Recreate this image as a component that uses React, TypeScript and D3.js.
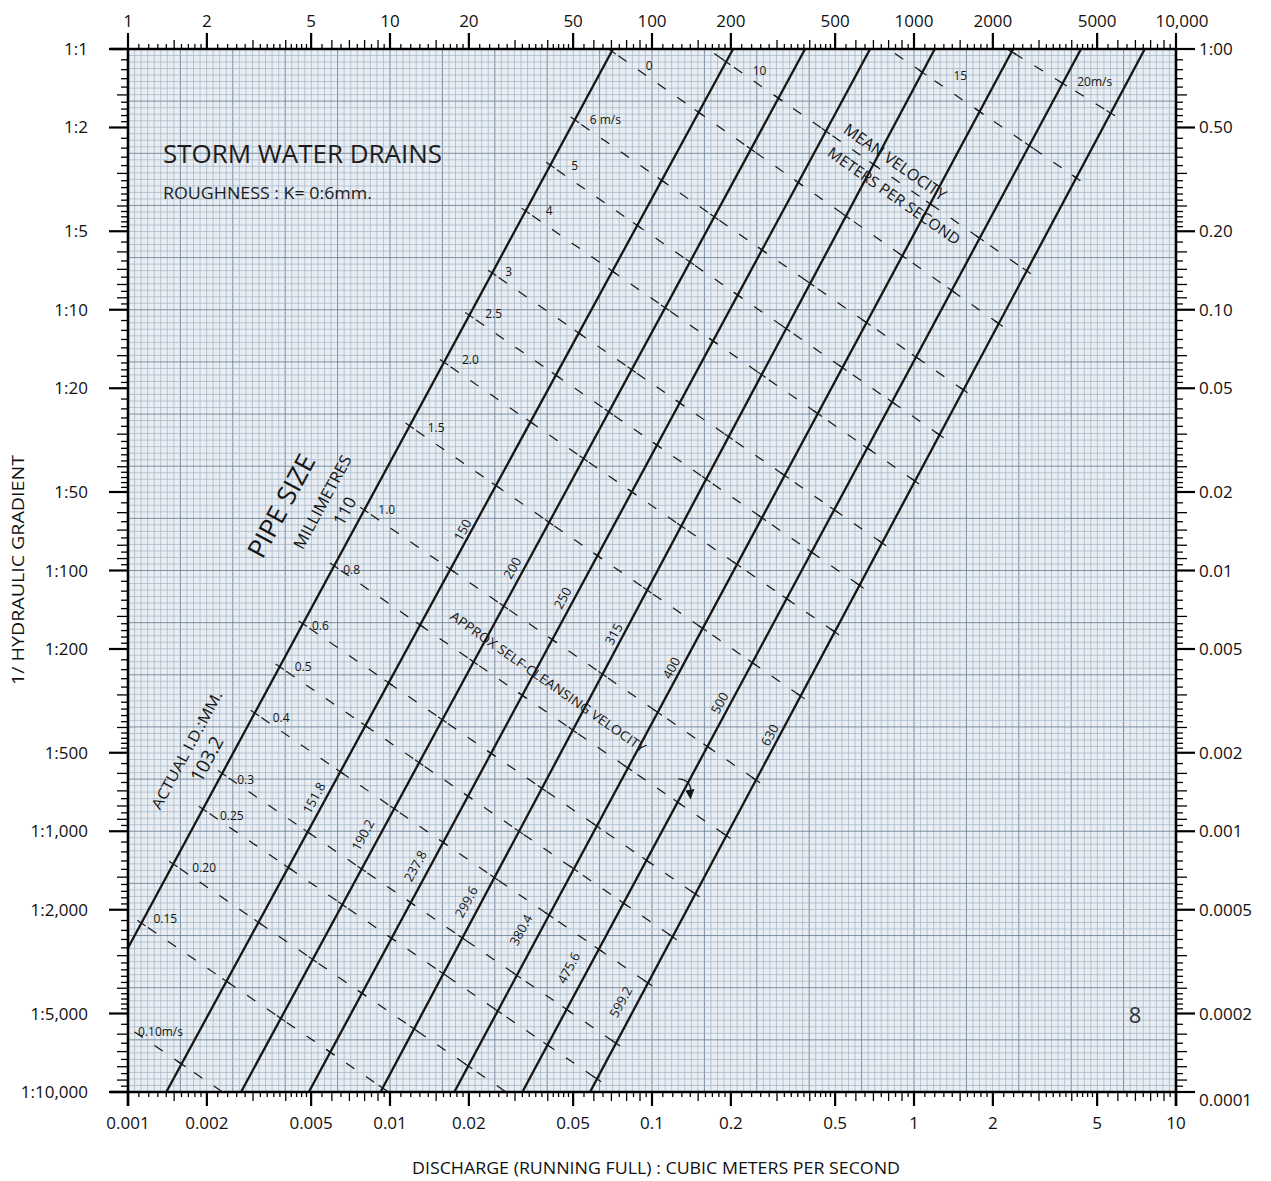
import React from "react";
import * as d3 from "d3";

// ---------------- data ----------------
const dischargeTicks = [0.001, 0.002, 0.005, 0.01, 0.02, 0.05, 0.1, 0.2, 0.5, 1, 2, 5, 10];
const dischargeTickLabels = ["0.001", "0.002", "0.005", "0.01", "0.02", "0.05", "0.1", "0.2", "0.5", "1", "2", "5", "10"];
const litreTicks = [1, 2, 5, 10, 20, 50, 100, 200, 500, 1000, 2000, 5000, 10000];
const litreTickLabels = ["1", "2", "5", "10", "20", "50", "100", "200", "500", "1000", "2000", "5000", "10,000"];
const gradientTicks = [1, 2, 5, 10, 20, 50, 100, 200, 500, 1000, 2000, 5000, 10000];
const gradientLabels = ["1:1", "1:2", "1:5", "1:10", "1:20", "1:50", "1:100", "1:200", "1:500", "1:1,000", "1:2,000", "1:5,000", "1:10,000"];
const slopeLabels = ["1:00", "0.50", "0.20", "0.10", "0.05", "0.02", "0.01", "0.005", "0.002", "0.001", "0.0005", "0.0002", "0.0001"];

// pipe lines: discharge (m3/s) at gradient 1:1 and at gradient 1:10,000
const pipeNominal = ["110", "150", "200", "250", "315", "400", "500", "630"];
const pipeActual = ["103.2", "151.8", "190.2", "237.8", "299.6", "380.4", "475.6", "599.2"];
const pipeQSteep = [0.071, 0.204, 0.384, 0.68, 1.2, 2.39, 4.34, 7.6];
const pipeQFlat = [0.000505, 0.0014, 0.0027, 0.0049, 0.0092, 0.0176, 0.032, 0.058];

// mean velocity lines: gradient (1:N) where each meets the 103.2 pipe and the 599.2 pipe
const velocityLabels = ["0.10m/s", "0.15", "0.20", "0.25", "0.3", "0.4", "0.5", "0.6", "0.8", "1.0", "1.5", "2.0", "2.5", "3", "4", "5", "6 m/s", "0", "10", "15", "20m/s"];
const velocityGradFirst = [4680, 2250, 1335, 822, 600, 352, 234, 160, 96, 58.6, 27.9, 15.9, 10.5, 7.23, 4.18, 2.79, 1.87, 1.02, 0.655, 0.296, 0.199];
const velocityGradLast = [50800, 24400, 14500, 8910, 6500, 3820, 2540, 1740, 1040, 636, 303, 172, 114, 78.4, 45.4, 30.2, 20.3, 11.3, 7.1, 3.12, 1.76];

// ---------------- layout ----------------
const W = 1271, H = 1181;
const PL = 128, PR = 1176, PT = 49, PB = 1092;
const FONT = "'Open Sans', 'Noto Sans', sans-serif";
const INK = "#161616";

const velLabelOffset: [number, number][] = [
  [10, 9], [12, 0], [19, 8], [17, 11], [15, 11], [18, 9], [15, 4], [9, 6], [9, 8], [14, 4], [18, 6],
  [18, 2], [16, 3], [13, 3], [20, 4], [21, 5], [15, 4], [34, 19], [45, 26], [65, 31], [70, 37],
];
const nominalLabelY = [511, 530, 568, 598, 634, 668, 703, 735];
const nominalLabelOff = [19, 9, 12, 12, 10, 10, 11, 10];
const actualLabelY = [759, 798, 835, 866, 902, 930, 968, 1002];
const actualLabelOff = [23, 12, 17, 15, 15, 20, 20, 17];

const xQ = d3.scaleLog().domain([0.001, 10]).range([PL, PR]);
const xL = d3.scaleLog().domain([1, 10000]).range([PL, PR]);
const yN = d3.scaleLog().domain([1, 10000]).range([PT, PB]);

type Pt = { x: number; y: number };

function rulerTicks(e0: number, e1: number) {
  const out: { v: number; kind: number }[] = [];
  for (let e = e0; e < e1; e++) {
    const d = Math.pow(10, e);
    out.push({ v: d, kind: 2 });
    for (let k = 11; k < 20; k++) out.push({ v: (d * k) / 10, kind: k === 15 ? 1 : 0 });
    out.push({ v: 2 * d, kind: 2 });
    for (let k = 22; k < 50; k += 2) out.push({ v: (d * k) / 10, kind: k === 30 || k === 40 ? 1 : 0 });
    out.push({ v: 5 * d, kind: 2 });
    for (let k = 55; k < 100; k += 5) out.push({ v: (d * k) / 10, kind: k % 10 === 0 ? 1 : 0 });
  }
  out.push({ v: Math.pow(10, e1), kind: 2 });
  return out;
}

const pipes = pipeNominal.map((_, i) => ({
  a: { x: xQ(pipeQFlat[i]), y: yN(10000) },
  b: { x: xQ(pipeQSteep[i]), y: yN(1) },
}));
function onPipe(i: number, N: number): Pt {
  const p = pipes[i];
  const yy = yN(N);
  const t = (yy - p.a.y) / (p.b.y - p.a.y);
  return { x: p.a.x + t * (p.b.x - p.a.x), y: yy };
}
function pipeXAtY(i: number, yy: number) {
  const p = pipes[i];
  const t = (yy - p.a.y) / (p.b.y - p.a.y);
  return p.a.x + t * (p.b.x - p.a.x);
}
const pipeAngle = (Math.atan2(pipes[0].b.y - pipes[0].a.y, pipes[0].b.x - pipes[0].a.x) * 180) / Math.PI;

function clipSeg(p: Pt, q: Pt): [Pt, Pt] | null {
  let t0 = 0, t1 = 1;
  const dx = q.x - p.x, dy = q.y - p.y;
  const P = [-dx, dx, -dy, dy];
  const Q = [p.x - PL, PR - p.x, p.y - PT, PB - p.y];
  for (let i = 0; i < 4; i++) {
    if (P[i] === 0) { if (Q[i] < 0) return null; continue; }
    const r = Q[i] / P[i];
    if (P[i] < 0) { if (r > t1) return null; if (r > t0) t0 = r; }
    else { if (r < t0) return null; if (r < t1) t1 = r; }
  }
  return [{ x: p.x + t0 * dx, y: p.y + t0 * dy }, { x: p.x + t1 * dx, y: p.y + t1 * dy }];
}
function intersect(p: Pt, p2: Pt, q: Pt, q2: Pt) {
  const rx = p2.x - p.x, ry = p2.y - p.y, sx = q2.x - q.x, sy = q2.y - q.y;
  const den = rx * sy - ry * sx;
  const t = ((q.x - p.x) * sy - (q.y - p.y) * sx) / den;
  return { x: p.x + t * rx, y: p.y + t * ry, t };
}

const velocities = velocityLabels.map((lab, i) => {
  const s = onPipe(0, velocityGradFirst[i]);
  const e = onPipe(7, velocityGradLast[i]);
  const c = clipSeg(s, e);
  const len = Math.hypot(e.x - s.x, e.y - s.y);
  const ux = (e.x - s.x) / len, uy = (e.y - s.y) / len;
  const crosses = pipes
    .map((p) => intersect(s, e, p.a, p.b))
    .filter((c2) => c2.t >= -0.001 && c2.t <= 1.001 && c2.x >= PL && c2.x <= PR && c2.y >= PT && c2.y <= PB);
  return { lab, s, e, c, ux, uy, crosses, i };
});

export default function App() {
  const nGrid = 160;
  const gx = d3.range(nGrid + 1).map((k) => PL + ((PR - PL) * k) / nGrid);
  const gy = d3.range(nGrid + 1).map((k) => PT + ((PB - PT) * k) / nGrid);
  const ticksX = rulerTicks(-3, 1);
  const ticksTop = rulerTicks(0, 4);
  const ticksY = rulerTicks(0, 4);
  const tickLen = [5, 9, 16];
  const velAngle = 35;

  return (
    <svg width={W} height={H} viewBox={`0 0 ${W} ${H}`}
      style={{ display: "block", background: "#fff", position: "absolute", left: 0, top: 0 }} fontFamily={FONT}>
      <defs>
        <clipPath id="plot">
          <rect x={PL} y={PT} width={PR - PL} height={PB - PT} />
        </clipPath>
      </defs>

      {/* grid paper */}
      <rect x={PL} y={PT} width={PR - PL} height={PB - PT} fill="#e8eef3" />
      <g>
        {gx.map((v, k) => (
          <line key={"gx" + k} x1={v} x2={v} y1={PT} y2={PB} stroke={k % 8 === 0 ? "#6f8498" : "#9dafbf"} strokeWidth={k % 8 === 0 ? 0.9 : 0.65} />
        ))}
        {gy.map((v, k) => (
          <line key={"gy" + k} y1={v} y2={v} x1={PL} x2={PR} stroke={k % 8 === 0 ? "#6f8498" : "#9dafbf"} strokeWidth={k % 8 === 0 ? 0.9 : 0.65} />
        ))}
      </g>

      {/* velocity lines */}
      <g clipPath="url(#plot)" stroke={INK} strokeWidth={1.2}>
        {velocities.map((v) =>
          v.c ? (
            <line key={"v" + v.i} x1={v.c[0].x} y1={v.c[0].y} x2={v.c[1].x} y2={v.c[1].y} strokeDasharray="10 14" strokeDashoffset={-8} />
          ) : null
        )}
        {velocities.map((v) =>
          v.crosses.map((c, j) => (
            <line key={"vc" + v.i + "_" + j} x1={c.x - v.ux * 5} y1={c.y - v.uy * 5} x2={c.x + v.ux * 5} y2={c.y + v.uy * 5} />
          ))
        )}
      </g>

      {/* pipe lines */}
      <g clipPath="url(#plot)" stroke={INK} strokeWidth={2.3}>
        {pipes.map((p, i) => (
          <line key={"p" + i} x1={p.a.x} y1={p.a.y} x2={p.b.x} y2={p.b.y} />
        ))}
      </g>

      {/* velocity labels */}
      <g fontSize={12} fill={INK}>
        {velocities.map((v) => {
          if (!v.c) return null;
          const o = velLabelOffset[v.i];
          return (
            <text key={"vl" + v.i} x={v.c[0].x + o[0]} y={v.c[0].y + o[1]}>
              {v.lab}
            </text>
          );
        })}
      </g>

      {/* pipe labels */}
      <g fill={INK}>
        {pipeNominal.map((n, i) => {
          const cy = nominalLabelY[i];
          const cx = pipeXAtY(i, cy) - nominalLabelOff[i];
          return (
            <text key={"pn" + i} x={cx} y={cy} dy="0.35em" textAnchor="middle" fontSize={i === 0 ? 17 : 13}
              transform={`rotate(${pipeAngle},${cx},${cy})`}>
              {n}
            </text>
          );
        })}
        {pipeActual.map((n, i) => {
          const cy = actualLabelY[i];
          const cx = pipeXAtY(i, cy) - actualLabelOff[i];
          return (
            <text key={"pa" + i} x={cx} y={cy} dy="0.35em" textAnchor="middle" fontSize={i === 0 ? 19 : 13}
              transform={`rotate(${pipeAngle},${cx},${cy})`}>
              {n}
            </text>
          );
        })}
        {(() => {
          const items = [
            { t: "PIPE SIZE", y: 506, off: 85, fs: 26, len: 113 },
            { t: "MILLIMETRES", y: 502, off: 46, fs: 16, len: 104 },
            { t: "ACTUAL I.D.:MM.", y: 750, off: 48, fs: 15, len: 132 },
          ];
          return items.map((it, k) => {
            const cx = pipeXAtY(0, it.y) - it.off;
            return (
              <text key={"ps" + k} x={cx} y={it.y} dy="0.35em" textAnchor="middle" fontSize={it.fs}
                textLength={it.len} lengthAdjust="spacingAndGlyphs"
                transform={`rotate(${pipeAngle},${cx},${it.y})`}>
                {it.t}
              </text>
            );
          });
        })()}
      </g>

      {/* velocity annotations */}
      <g fill={INK}>
        <text x={895} y={162} dy="0.35em" textAnchor="middle" fontSize={16} textLength={121} lengthAdjust="spacingAndGlyphs"
          transform={`rotate(${velAngle},895,162)`}>MEAN VELOCITY</text>
        <text x={894} y={196} dy="0.35em" textAnchor="middle" fontSize={15} textLength={158} lengthAdjust="spacingAndGlyphs"
          transform={`rotate(${velAngle},894,196)`}>METERS PER SECOND</text>
        <text x={548} y={682} dy="0.35em" textAnchor="middle" fontSize={13} textLength={235} lengthAdjust="spacingAndGlyphs"
          transform={`rotate(${velAngle},548,682)`}>APPROX SELF-CLEANSING VELOCITY</text>
      </g>
      {(() => {
        const ax = xQ(0.133), ay = yN(676);
        return (
          <g stroke={INK} strokeWidth={1.3} fill="none">
            <path d={`M${ax - 6},${ay - 8} Q${ax + 8},${ay - 7} ${ax + 6},${ay + 7}`} />
            <path d={`M${ax + 2},${ay + 4} L${ax + 6},${ay + 11} L${ax + 9},${ay + 3} Z`} fill={INK} />
          </g>
        );
      })()}

      {/* title */}
      <text x={163} y={163} fontSize={26} fill="#1c1c1c" textLength={279} lengthAdjust="spacingAndGlyphs">STORM WATER DRAINS</text>
      <text x={163} y={199} fontSize={17} fill="#1c1c1c" textLength={209} lengthAdjust="spacingAndGlyphs">ROUGHNESS : K= 0:6mm.</text>
      <text x={1135} y={1023} fontSize={22} fill="#333" textAnchor="middle">8</text>

      {/* axes spines */}
      <g stroke="#000" strokeWidth={2.6} fill="none">
        <line x1={PL - 18} x2={PR} y1={PT} y2={PT} />
        <line x1={PL - 18} x2={PR} y1={PB} y2={PB} />
        <line x1={PL} x2={PL} y1={PT} y2={PB + 14} />
        <line x1={PR} x2={PR} y1={PT} y2={PB + 14} />
      </g>

      {/* ticks */}
      <g stroke="#000">
        {ticksX.map((t, k) => (
          <line key={"bx" + k} x1={xQ(t.v)} x2={xQ(t.v)} y1={PB} y2={PB + tickLen[t.kind] - (t.kind === 2 ? 2 : 0)} strokeWidth={t.kind === 2 ? 2.2 : 1.3} />
        ))}
        {ticksTop.map((t, k) => (
          <line key={"tx" + k} x1={xL(t.v)} x2={xL(t.v)} y1={PT} y2={PT - tickLen[t.kind]} strokeWidth={t.kind === 2 ? 2.2 : 1.3} />
        ))}
        {ticksY.map((t, k) => (
          <line key={"ly" + k} x1={PL} x2={PL - tickLen[t.kind] - (t.kind === 2 ? 3 : 2)} y1={yN(t.v)} y2={yN(t.v)} strokeWidth={t.kind === 2 ? 2.2 : 1.3} />
        ))}
        {ticksY.map((t, k) => (
          <line key={"ry" + k} x1={PR} x2={PR + tickLen[t.kind] + (t.kind === 2 ? 3 : 2)} y1={yN(t.v)} y2={yN(t.v)} strokeWidth={t.kind === 2 ? 2.2 : 1.3} />
        ))}
      </g>

      {/* tick labels */}
      <g fontSize={17} fill="#111">
        {dischargeTicks.map((v, k) => (
          <text key={"bl" + k} x={xQ(v)} y={1129} textAnchor="middle">{dischargeTickLabels[k]}</text>
        ))}
        {litreTicks.map((v, k) => (
          <text key={"tl" + k} x={xL(v) + (k === 12 ? 6 : 0)} y={27} textAnchor="middle">{litreTickLabels[k]}</text>
        ))}
        {gradientTicks.map((v, k) => (
          <text key={"ll" + k} x={88} y={yN(v) + 6} textAnchor="end">{gradientLabels[k]}</text>
        ))}
        {gradientTicks.map((v, k) => (
          <text key={"rl" + k} x={1199} y={yN(v) + 6 + (k === 12 ? 8 : 0)} textAnchor="start">{slopeLabels[k]}</text>
        ))}
      </g>

      {/* axis titles */}
      <text x={656} y={1174} fontSize={16} fill="#111" textAnchor="middle" textLength={488} lengthAdjust="spacingAndGlyphs">
        DISCHARGE (RUNNING FULL) : CUBIC METERS PER SECOND
      </text>
      <text x={24} y={570} fontSize={16} fill="#111" textAnchor="middle" textLength={230} lengthAdjust="spacingAndGlyphs"
        transform="rotate(-90,24,570)">
        1/ HYDRAULIC GRADIENT
      </text>
    </svg>
  );
}
